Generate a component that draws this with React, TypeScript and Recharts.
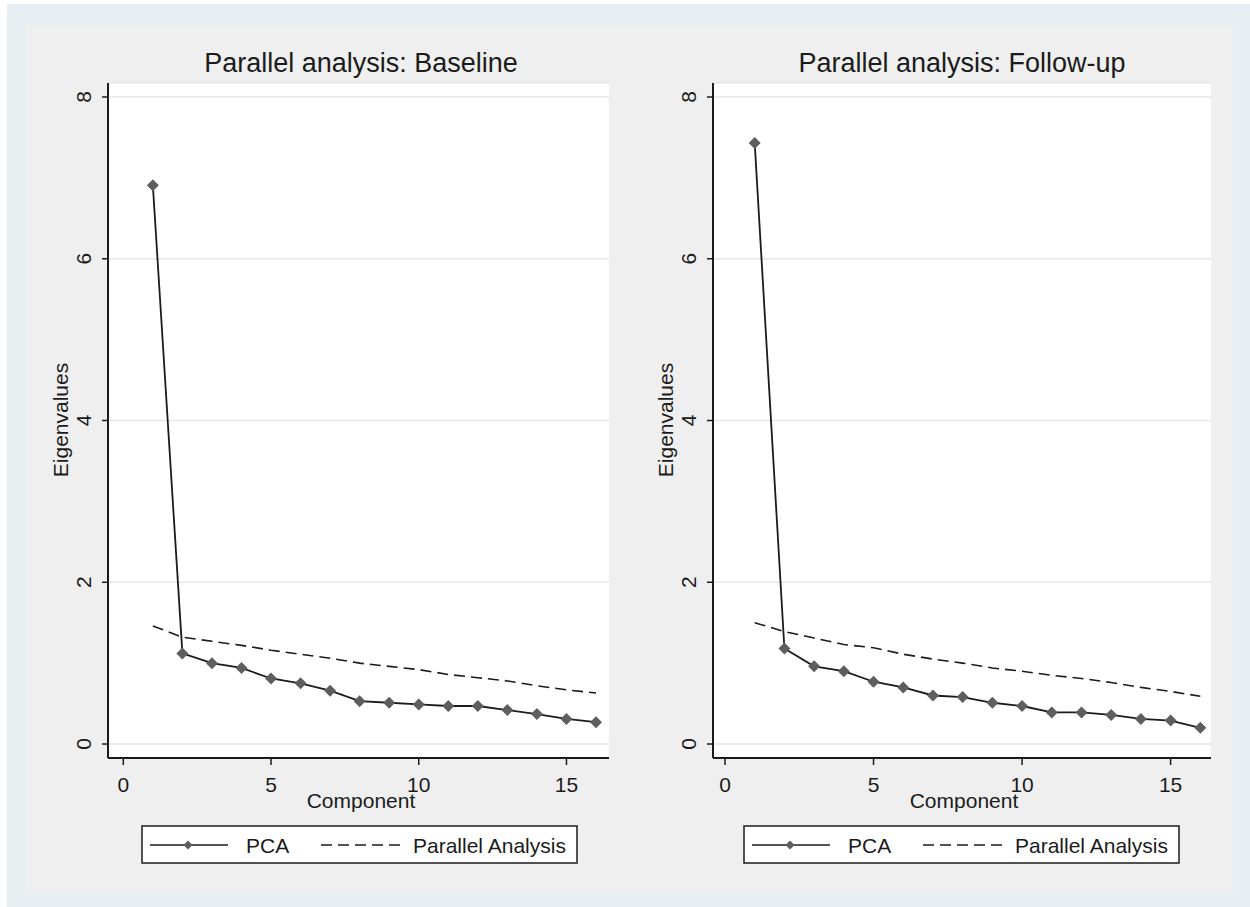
import { CartesianGrid, Line, LineChart, XAxis, YAxis } from "recharts";

// eigenvalues
const components = [1, 2, 3, 4, 5, 6, 7, 8, 9, 10, 11, 12, 13, 14, 15, 16];
const baselinePca = [6.91, 1.12, 1.0, 0.94, 0.81, 0.75, 0.66, 0.53, 0.51, 0.49, 0.47, 0.47, 0.42, 0.37, 0.31, 0.27];
const baselineParallel = [1.46, 1.32, 1.27, 1.22, 1.16, 1.11, 1.06, 1.0, 0.96, 0.92, 0.86, 0.82, 0.78, 0.72, 0.67, 0.63];
const followUpPca = [7.43, 1.18, 0.96, 0.9, 0.77, 0.7, 0.6, 0.58, 0.51, 0.47, 0.39, 0.39, 0.36, 0.31, 0.29, 0.2];
const followUpParallel = [1.5, 1.39, 1.31, 1.23, 1.19, 1.11, 1.05, 1.0, 0.94, 0.9, 0.85, 0.81, 0.76, 0.7, 0.65, 0.59];

const xTicks = [0, 5, 10, 15];
const yTicks = [0, 2, 4, 6, 8];
const seriesNames = ["PCA", "Parallel Analysis"];
const titles = ["Parallel analysis: Baseline", "Parallel analysis: Follow-up"];

const FONT = '"Liberation Sans", Arial, sans-serif';
const INK = "#1b1b1b";
const MARKER = "#5e5e5e";
const GRID = "#e6e6e6";
const DASH = "11 6";

type Row = { component: number; pca: number; parallel: number };

function buildRows(pca: number[], parallel: number[]): Row[] {
  return components.map((c, i) => ({ component: c, pca: pca[i], parallel: parallel[i] }));
}

type DotProps = { cx?: number; cy?: number; index?: number };

function Diamond({ cx, cy, index }: DotProps) {
  if (typeof cx !== "number" || typeof cy !== "number") return null;
  const r = 6;
  return (
    <polygon
      key={`diamond-${index}`}
      points={`${cx},${cy - r} ${cx + r},${cy} ${cx},${cy + r} ${cx - r},${cy}`}
      fill={MARKER}
    />
  );
}

type TickProps = { x?: number; y?: number; payload?: { value: number } };

function YTick({ x = 0, y = 0, payload }: TickProps) {
  return (
    <text
      x={x}
      y={y}
      transform={`rotate(-90 ${x} ${y})`}
      textAnchor="middle"
      fontSize={21}
      fontFamily={FONT}
      fill={INK}
    >
      {payload?.value}
    </text>
  );
}

function XTick({ x = 0, y = 0, payload }: TickProps) {
  return (
    <text x={x} y={y + 15} textAnchor="middle" fontSize={21} fontFamily={FONT} fill={INK}>
      {payload?.value}
    </text>
  );
}

type PanelProps = {
  left: number;
  marginLeft: number;
  marginRight: number;
  xDomain: [number, number];
  rows: Row[];
};

function ScreePanel({ left, marginLeft, marginRight, xDomain, rows }: PanelProps) {
  return (
    <div style={{ position: "absolute", left, top: 0 }}>
      <LineChart
        width={620}
        height={800}
        data={rows}
        margin={{ top: 83, right: marginRight, left: marginLeft, bottom: 0 }}
      >
        <CartesianGrid vertical={false} stroke={GRID} strokeWidth={1.5} fill="#ffffff" />
        <XAxis
          dataKey="component"
          type="number"
          domain={xDomain}
          ticks={xTicks}
          allowDataOverflow
          height={42}
          tickSize={7}
          tickMargin={12}
          axisLine={{ stroke: INK, strokeWidth: 2 }}
          tickLine={{ stroke: INK, strokeWidth: 1.5 }}
          tick={<XTick />}
        />
        <YAxis
          type="number"
          domain={[-0.173, 8.173]}
          ticks={yTicks}
          allowDataOverflow
          width={60}
          tickSize={6}
          tickMargin={11}
          axisLine={{ stroke: INK, strokeWidth: 2 }}
          tickLine={{ stroke: INK, strokeWidth: 1.5 }}
          tick={<YTick />}
        />
        <Line
          dataKey="parallel"
          stroke={INK}
          strokeWidth={1.6}
          strokeDasharray={DASH}
          dot={false}
          activeDot={false}
          isAnimationActive={false}
        />
        <Line
          dataKey="pca"
          stroke={INK}
          strokeWidth={1.8}
          dot={(p: DotProps) => <Diamond {...p} />}
          activeDot={false}
          isAnimationActive={false}
        />
      </LineChart>
    </div>
  );
}

function Legend({ x }: { x: number }) {
  return (
    <g>
      <rect x={x} y={826} width={435} height={37} fill="#ffffff" stroke={INK} strokeWidth={1.5} />
      <line x1={x + 8} x2={x + 86} y1={845} y2={845} stroke={INK} strokeWidth={1.5} />
      <polygon
        points={`${x + 46},${840.5} ${x + 50.5},${845} ${x + 46},${849.5} ${x + 41.5},${845}`}
        fill={MARKER}
      />
      <text x={x + 104} y={852.5} fontSize={21} fontFamily={FONT} fill={INK}>
        {seriesNames[0]}
      </text>
      <line
        x1={x + 179}
        x2={x + 258}
        y1={845}
        y2={845}
        stroke={INK}
        strokeWidth={1.5}
        strokeDasharray={DASH}
      />
      <text x={x + 271} y={852.5} fontSize={21} fontFamily={FONT} fill={INK}>
        {seriesNames[1]}
      </text>
    </g>
  );
}

export default function App() {
  const baselineRows = buildRows(baselinePca, baselineParallel);
  const followUpRows = buildRows(followUpPca, followUpParallel);

  return (
    <div style={{ position: "fixed", left: 0, top: 0, width: 1250, height: 907, background: "#ffffff" }}>
      <svg width={1250} height={907} style={{ position: "absolute", left: 0, top: 0 }}>
        <rect x={7} y={4} width={1243} height={903} fill="#e8eff2" />
        <rect x={26} y={25} width={1207} height={868} fill="#efefef" />
        <text x={361} y={72} textAnchor="middle" fontSize={27} fontFamily={FONT} fill={INK}>
          {titles[0]}
        </text>
        <text x={962} y={72} textAnchor="middle" fontSize={27} fontFamily={FONT} fill={INK}>
          {titles[1]}
        </text>
        <text
          x={68}
          y={420}
          transform="rotate(-90 68 420)"
          textAnchor="middle"
          fontSize={21}
          fontFamily={FONT}
          fill={INK}
        >
          Eigenvalues
        </text>
        <text
          x={673}
          y={420}
          transform="rotate(-90 673 420)"
          textAnchor="middle"
          fontSize={21}
          fontFamily={FONT}
          fill={INK}
        >
          Eigenvalues
        </text>
        <Legend x={142} />
        <Legend x={744} />
      </svg>
      <ScreePanel left={0} marginLeft={48} marginRight={11} xDomain={[-0.518, 16.44]} rows={baselineRows} />
      <ScreePanel left={605} marginLeft={48} marginRight={14} xDomain={[-0.404, 16.36]} rows={followUpRows} />
      <svg width={1250} height={907} style={{ position: "absolute", left: 0, top: 0, pointerEvents: "none" }}>
        <text x={361} y={808} textAnchor="middle" fontSize={21} fontFamily={FONT} fill={INK}>
          Component
        </text>
        <text x={964} y={808} textAnchor="middle" fontSize={21} fontFamily={FONT} fill={INK}>
          Component
        </text>
      </svg>
    </div>
  );
}
